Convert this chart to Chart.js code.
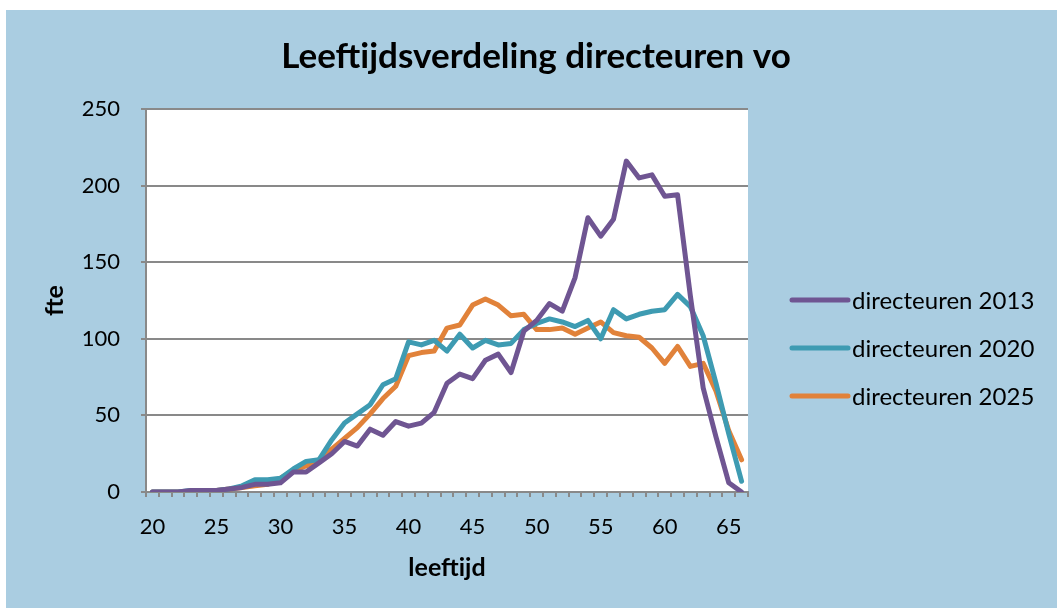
<!DOCTYPE html>
<html>
<head>
<meta charset="utf-8">
<script src="https://cdn.jsdelivr.net/npm/chart.js@4"></script>
<style>
    html, body { margin: 0; padding: 0; background: #ffffff; }
    #wrap {
        position: absolute;
        left: 6px;
        top: 10px;
        width: 1051px;
        height: 598px;
        background: #aacde1;
    }
</style>
</head>
<body>
<div id="wrap"><canvas id="ageChart" width="1051" height="598"></canvas></div>
<script>
// Leeftijden 20 t/m 66
const ages = [20, 21, 22, 23, 24, 25, 26, 27, 28, 29,
              30, 31, 32, 33, 34, 35, 36, 37, 38, 39,
              40, 41, 42, 43, 44, 45, 46, 47, 48, 49,
              50, 51, 52, 53, 54, 55, 56, 57, 58, 59,
              60, 61, 62, 63, 64, 65, 66];

// fte per leeftijd
const directeuren2013 = [0, 0, 0, 1, 1, 1, 2, 3, 5, 5,
                         6, 13, 13, 19, 25, 33, 30, 41, 37, 46,
                         43, 45, 52, 71, 77, 74, 86, 90, 78, 105,
                         112, 123, 118, 140, 179, 167, 178, 216, 205, 207,
                         193, 194, 128, 68, 36, 6, 0];
const directeuren2020 = [0, 0, 0, 1, 1, 1, 2, 4, 8, 8,
                         9, 15, 20, 21, 34, 45, 51, 57, 70, 74,
                         98, 96, 99, 92, 103, 94, 99, 96, 97, 106,
                         110, 113, 111, 108, 112, 100, 119, 113, 116, 118,
                         119, 129, 121, 102, 71, 38, 7];
const directeuren2025 = [0, 0, 0, 0, 0, 1, 2, 3, 4, 5,
                         9, 14, 17, 21, 28, 35, 42, 51, 61, 69,
                         89, 91, 92, 107, 109, 122, 126, 122, 115, 116,
                         106, 106, 107, 103, 107, 111, 104, 102, 101, 94,
                         84, 95, 82, 84, 66, 40, 21];

const seriesNames = ['directeuren 2013', 'directeuren 2020', 'directeuren 2025'];
const yTicks = [0, 50, 100, 150, 200, 250];
const chartTitle = 'Leeftijdsverdeling directeuren vo';

const FONT = 'Lato, "Open Sans", sans-serif';
const GRID = '#898989';

// Witte achtergrond alleen achter het plotgebied
const plotBackground = {
    id: 'plotBackground',
    beforeDraw(chart) {
        const { ctx, chartArea: a } = chart;
        ctx.save();
        ctx.fillStyle = '#ffffff';
        ctx.fillRect(a.left, a.top, a.right - a.left, a.bottom - a.top);
        ctx.restore();
    }
};

// Titel gecentreerd over de hele grafiek (incl. legenda)
const wideTitle = {
    id: 'wideTitle',
    afterDraw(chart) {
        const ctx = chart.ctx;
        ctx.save();
        ctx.font = 'bold 35px ' + FONT;
        ctx.fillStyle = '#000000';
        ctx.textAlign = 'center';
        ctx.textBaseline = 'middle';
        ctx.fillText(chartTitle, 530, 47);
        ctx.restore();
    }
};

// Legenda rechts naast de grafiek
const sideLegend = {
    id: 'sideLegend',
    afterDraw(chart) {
        const ctx = chart.ctx;
        const x0 = 786, x1 = 842, y0 = 290, step = 48;
        ctx.save();
        ctx.font = '24px ' + FONT;
        ctx.textBaseline = 'middle';
        ctx.textAlign = 'left';
        chart.data.datasets.forEach((ds, i) => {
            const y = y0 + i * step;
            ctx.strokeStyle = ds.borderColor;
            ctx.lineWidth = 5;
            ctx.lineCap = 'round';
            ctx.beginPath();
            ctx.moveTo(x0, y);
            ctx.lineTo(x1, y);
            ctx.stroke();
            ctx.fillStyle = '#000000';
            ctx.fillText(ds.label, x1 + 4, y + 1);
        });
        ctx.restore();
    }
};

function lineSet(label, data, color) {
    return {
        label: label,
        data: data,
        borderColor: color,
        backgroundColor: color,
        borderWidth: 5,
        pointRadius: 0,
        tension: 0,
        fill: false,
        borderJoinStyle: 'round',
        borderCapStyle: 'round'
    };
}

new Chart(document.getElementById('ageChart'), {
    type: 'line',
    data: {
        labels: ages,
        datasets: [
            lineSet(seriesNames[0], directeuren2013, '#6f5592'),
            lineSet(seriesNames[1], directeuren2020, '#3e9bb2'),
            lineSet(seriesNames[2], directeuren2025, '#e1823a')
        ]
    },
    options: {
        responsive: false,
        animation: false,
        layout: { padding: { left: 0, right: 309, top: 99, bottom: 25 } },
        plugins: {
            legend: { display: false },
            tooltip: { enabled: false },
            title: { display: false }
        },
        scales: {
            x: {
                offset: true,
                afterFit(scale) { scale.height = 91; },
                grid: {
                    offset: true,
                    drawOnChartArea: false,
                    drawTicks: true,
                    tickLength: 5,
                    color: GRID,
                    lineWidth: 2
                },
                border: { color: GRID, width: 2 },
                ticks: {
                    autoSkip: false,
                    maxRotation: 0,
                    padding: 17,
                    color: '#000000',
                    font: { family: FONT, size: 22 },
                    callback(value, index) {
                        const age = ages[index];
                        return age % 5 === 0 ? String(age) : '';
                    }
                },
                title: {
                    display: true,
                    text: 'leeftijd',
                    color: '#000000',
                    font: { family: FONT, size: 25, weight: 'bold' },
                    padding: { top: 0, bottom: 0 }
                }
            },
            y: {
                min: yTicks[0],
                max: yTicks[yTicks.length - 1],
                afterFit(scale) { scale.width = 140; },
                afterBuildTicks(scale) {
                    scale.ticks = yTicks.map(v => ({ value: v }));
                },
                grid: {
                    color: GRID,
                    lineWidth: 2,
                    tickLength: 5
                },
                border: { color: GRID, width: 2 },
                ticks: {
                    padding: 21,
                    color: '#000000',
                    font: { family: FONT, size: 22 }
                },
                title: {
                    display: true,
                    text: 'fte',
                    color: '#000000',
                    font: { family: FONT, size: 25, weight: 'bold' },
                    padding: { top: 34, bottom: 0 }
                }
            }
        }
    },
    plugins: [plotBackground, wideTitle, sideLegend]
});
</script>
</body>
</html>
